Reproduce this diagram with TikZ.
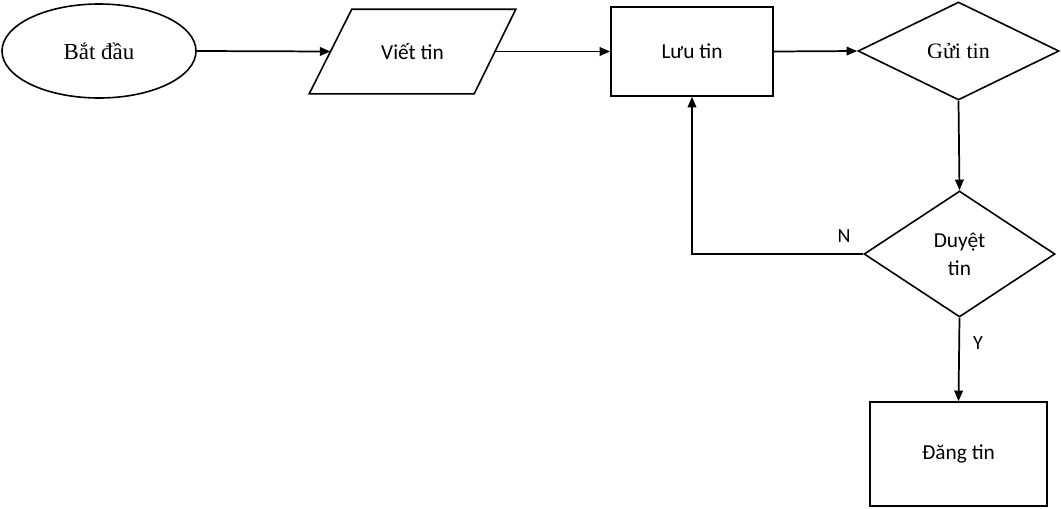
\documentclass[tikz,border=0pt]{standalone}
\usepackage{fontspec}
\setmainfont{Carlito}
\newfontfamily\tnr{Liberation Serif}
\usetikzlibrary{shapes.geometric,arrows.meta,calc}
\tikzset{
  base/.style={line width=1.2pt, inner sep=0pt, font=\fontsize{16}{21}\selectfont, align=center},
  boxnode/.style={base, draw, rectangle},
  ellnode/.style={base, draw, ellipse, font=\tnr\fontsize{17.2}{20}\selectfont},
  dianode/.style={base, draw, diamond},
  lab/.style={inner sep=0pt, font=\fontsize{15}{18}\selectfont},
  conn/.style={line width=1.3pt, -{Triangle[length=8pt,width=6.5pt]}}
}
\begin{document}
\begin{tikzpicture}[x=0.75pt,y=-0.75pt]
\useasboundingbox (0,0) rectangle (1061,508);
\node[ellnode, minimum width=145.5pt, minimum height=70.5pt] (start) at (99,51) {Bắt đầu};
\node[base, minimum width=153.75pt, minimum height=62.25pt] (viet) at (412.5,51.5) {Viết tin};
\draw[line width=1.2pt, line join=miter] (viet.south west) -- ++(165,0) -- (viet.north east) -- ++(-164,0) -- cycle;
\coordinate (vietL) at (330.5,51.5);
\coordinate (vietR) at (495,51.5);
\node[boxnode, minimum width=121.5pt, minimum height=66.75pt] (luu) at (692,51.5) {Lưu tin};
\node[dianode, font=\tnr\fontsize{16.5}{20}\selectfont, minimum width=150.75pt, minimum height=73.5pt] (gui) at (958.5,51) {Gửi tin};
\node[dianode, minimum width=143.25pt, minimum height=94.5pt] (duyet) at (959.5,254) {Duyệt\\tin};
\node[boxnode, minimum width=132.75pt, minimum height=78pt] (dang) at (958.5,454) {Đăng tin};
\node[lab] (nlab) at (844,236) {N};
\node[lab] (ylab) at (978,343) {Y};
\draw[conn] (start.east) -- (vietL);
\draw[conn] (vietR) -- (luu.west);
\draw[conn] (luu.east) -- (gui.west);
\draw[conn] (gui.south) -- (duyet.north);
\draw[conn] (duyet.west) -| (luu.south);
\draw[conn] (duyet.south) -- (dang.north);
\end{tikzpicture}
\end{document}
